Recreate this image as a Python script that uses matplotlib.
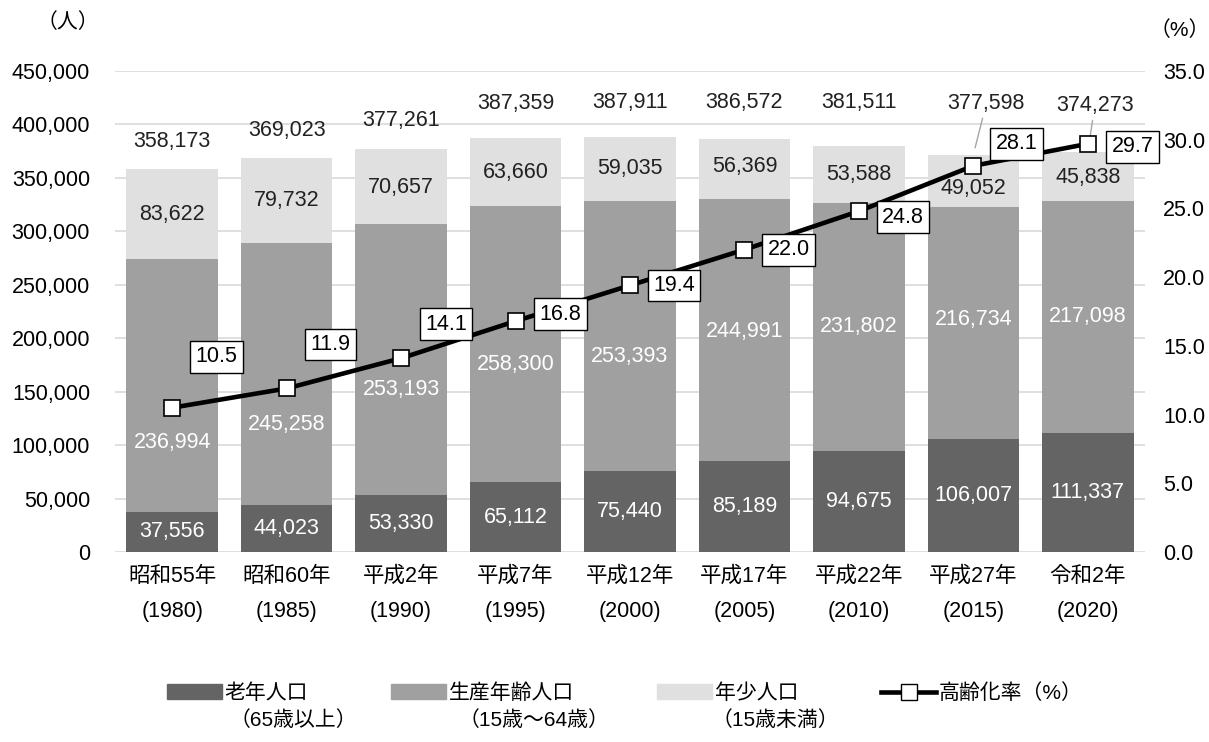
import matplotlib
matplotlib.use('Agg')
import matplotlib.pyplot as plt
import numpy as np
from matplotlib.ticker import FuncFormatter, MultipleLocator
from matplotlib.patches import Patch
from matplotlib.lines import Line2D

plt.rcParams['font.family'] = ['Liberation Sans', 'Noto Sans CJK JP']

# data
years = ['昭和55年\n(1980)', '昭和60年\n(1985)', '平成2年\n(1990)', '平成7年\n(1995)',
         '平成12年\n(2000)', '平成17年\n(2005)', '平成22年\n(2010)', '平成27年\n(2015)',
         '令和2年\n(2020)']
elderly = [37556, 44023, 53330, 65112, 75440, 85189, 94675, 106007, 111337]
working = [236994, 245258, 253193, 258300, 253393, 244991, 231802, 216734, 217098]
young = [83622, 79732, 70657, 63660, 59035, 56369, 53588, 49052, 45838]
totals = [358173, 369023, 377261, 387359, 387911, 386572, 381511, 377598, 374273]
aging_rate = [10.5, 11.9, 14.1, 16.8, 19.4, 22.0, 24.8, 28.1, 29.7]

# label nudges (pixels, x right / y down)
rate_off = [(44, -51), (44, -44), (45, -34), (45, -7), (44, 0), (44, 0), (44, 6), (43, -22), (45, 3)]
total_off = [(0, -28), (0, -27), (0, -28), (0, -35), (0, -35), (0, -36), (0, -43), (13, -51), (7, -46)]
mid_off = [57, 51, 30, 20, 21, 1, 0, -3, 0]
young_off = [1, 0, 1, 0, 0, -2, 0, 8, 1]

c_dark = '#646464'
c_mid = '#a0a0a0'
c_light = '#e0e0e0'
fs = 15.5
px = 0.72  # points per pixel at 100 dpi

fig = plt.figure(figsize=(12.09, 7.42), dpi=100)
ax = fig.add_axes([115 / 1209, 190 / 742, 1030 / 1209, 481 / 742])
ax2 = ax.twinx()

x = np.arange(len(years))
elderly = np.array(elderly)
working = np.array(working)
young = np.array(young)

ax.bar(x, elderly, width=0.8, color=c_dark, zorder=2)
ax.bar(x, working, width=0.8, bottom=elderly, color=c_mid, zorder=2)
ax.bar(x, young, width=0.8, bottom=elderly + working, color=c_light, zorder=2)

ax.set_xlim(-0.5, len(years) - 0.5)
ax.set_ylim(0, 450000)
ax.yaxis.set_major_locator(MultipleLocator(50000))
ax.yaxis.set_major_formatter(FuncFormatter(lambda v, p: f'{int(v):,}'))
ax.grid(axis='y', color='#d9d9d9', lw=1.2)
ax.set_axisbelow(True)
ax.set_xticks(x)
ax.set_xticklabels(years, fontsize=fs, linespacing=1.9)
ax.tick_params(axis='x', length=0, pad=10)
ax.tick_params(axis='y', length=0, pad=18, labelsize=fs)
for s in ax.spines.values():
    s.set_visible(False)

# segment labels
for i in range(len(x)):
    ax.annotate(f'{elderly[i]:,}', (x[i], elderly[i] / 2), ha='center', va='center',
                fontsize=fs, color='white', zorder=3)
    ax.annotate(f'{working[i]:,}', (x[i], elderly[i] + working[i] / 2),
                xytext=(0, -mid_off[i] * px), textcoords='offset points',
                ha='center', va='center', fontsize=fs, color='white', zorder=3)
    ax.annotate(f'{young[i]:,}', (x[i], elderly[i] + working[i] + young[i] / 2),
                xytext=(0, -young_off[i] * px), textcoords='offset points',
                ha='center', va='center', fontsize=fs, color='#222222', zorder=3)
    top = elderly[i] + working[i] + young[i]
    dx, dy = total_off[i]
    arrow = None
    if i >= 7:
        arrow = dict(arrowstyle='-', color='#a6a6a6', lw=1, shrinkA=1, shrinkB=5)
    ax.annotate(f'{totals[i]:,}', (x[i], top), xytext=(dx * px, -dy * px),
                textcoords='offset points', ha='center', va='center',
                fontsize=fs, color='#222222', arrowprops=arrow, zorder=3)

# aging rate line
ax2.plot(x, aging_rate, color='black', lw=3.3, marker='s', markersize=12,
         markerfacecolor='white', markeredgecolor='black', markeredgewidth=1.2, zorder=5)
ax2.set_ylim(0, 35)
ax2.yaxis.set_major_locator(MultipleLocator(5))
ax2.yaxis.set_major_formatter(FuncFormatter(lambda v, p: f'{v:.1f}'))
ax2.tick_params(axis='y', length=0, pad=13, labelsize=fs)
for s in ax2.spines.values():
    s.set_visible(False)
for i in range(len(x)):
    dx, dy = rate_off[i]
    ax2.annotate(f'{aging_rate[i]:.1f}', (x[i], aging_rate[i]), xytext=(dx * px, -dy * px),
                 textcoords='offset points', ha='center', va='center', fontsize=fs,
                 bbox=dict(boxstyle='square,pad=0.25', fc='white', ec='black', lw=1), zorder=6)

fig.text(68 / 1209, 1 - 22 / 742, '（人）', ha='center', va='center', fontsize=15)
fig.text(1180 / 1209, 1 - 30 / 742, '（%）', ha='center', va='center', fontsize=15)

# legend
handles = [Patch(color=c_dark), Patch(color=c_mid), Patch(color=c_light),
           Line2D([], [], color='black', lw=3.3, marker='s', markersize=12,
                  markerfacecolor='white', markeredgecolor='black')]
labels = ['老年人口', '生産年齢人口', '年少人口', '高齢化率（%）']
fig.legend(handles, labels, ncol=4, loc='center', bbox_to_anchor=(625 / 1209, 1 - 693 / 742),
           frameon=False, fontsize=15, handlelength=2.6, handleheight=0.7,
           handletextpad=0.15, columnspacing=4.0)
for xp, t in [(230, '（65歳以上）'), (459, '（15歳～64歳）'), (712, '（15歳未満）')]:
    fig.text(xp / 1209, 1 - 720 / 742, t, ha='left', va='center', fontsize=15)

fig.savefig('out.png', dpi=100)
